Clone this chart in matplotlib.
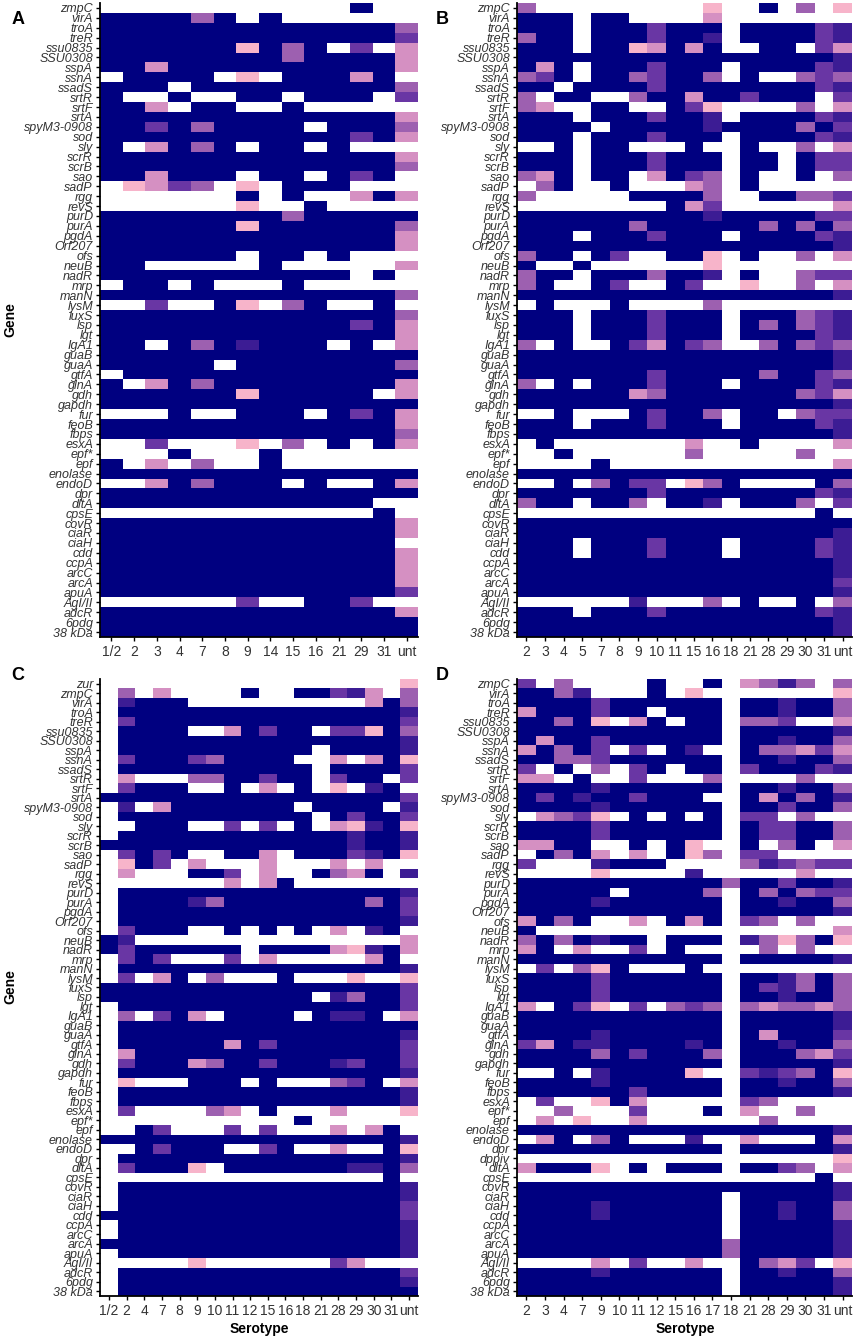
import numpy as np
import matplotlib.pyplot as plt
from matplotlib.colors import LinearSegmentedColormap

plt.rcParams['font.family'] = ['Liberation Sans', 'DejaVu Sans']

# gene rows, top to bottom
genes_A = ['zmpC', 'virA', 'troA', 'treR', 'ssu0835', 'SSU0308', 'sspA', 'ssnA', 'ssadS',
           'srtR', 'srtF', 'srtA', 'spyM3-0908', 'sod', 'sly', 'scrR', 'scrB', 'sao', 'sadP',
           'rgg', 'revS', 'purD', 'purA', 'pgdA', 'Orf207', 'ofs', 'neuB', 'nadR', 'mrp',
           'manN', 'lysM', 'luxS', 'lsp', 'lgt', 'IgA1', 'guaB', 'guaA', 'gtfA', 'glnA', 'gdh',
           'gapdh', 'fur', 'feoB', 'fbps', 'esxA', 'epf*', 'epf', 'enolase', 'endoD', 'dpr',
           'dltA', 'cpsE', 'covR', 'ciaR', 'ciaH', 'cdd', 'ccpA', 'arcC', 'arcA', 'apuA',
           'AgI/II', 'adcR', '6pdg', '38 kDa']
genes_B = genes_A
genes_C = ['zur'] + genes_A
genes_D = genes_A[:50] + ['dppiv'] + genes_A[50:]

sero_A = ['1/2', '2', '3', '4', '7', '8', '9', '14', '15', '16', '21', '29', '31', 'unt']
sero_B = ['2', '3', '4', '5', '7', '8', '9', '10', '11', '15', '16', '18', '21', '28', '29', '30', '31', 'unt']
sero_C = ['1/2', '2', '4', '7', '8', '9', '10', '11', '12', '15', '16', '18', '21', '28', '29', '30', '31', 'unt']
sero_D = ['2', '3', '4', '7', '9', '10', '11', '12', '15', '16', '17', '18', '21', '28', '29', '30', '31', 'unt']

# '.' absent, p/l/m/d/D/N increasing proportion
levels = {'.': np.nan, 'p': 0.1, 'l': 0.3, 'm': 0.5, 'd': 0.7, 'D': 0.85, 'N': 1.0}

cells_A = [
    "...........N..", "NNNNmN.N......", "NNNNNNNNNNNNNm", "NNNNNNNNNNNNNd",
    "NNNNNNpNmN.d.l", "NNNNNNNNmNNNNl", "NNlNNNNNNNNNNl", ".NNNN.p.NNNlN.",
    "NNN.NNNNNNNNNm", "N..N..NN.NNN.d", "NNl.NN..N.....", "NNNNNNNNNNNNNl",
    "NNdNmNNNN.NNNm", "NNNNNNNNNNNdNl", "N.lNmN.NN.N...", "NNNNNNNNNNNNNl",
    "NNNNNNNNNNNNNm", "NNlNNN.NN.NdN.", ".pldm.p.NNN...", "......N.N..lNl",
    "......p..N....", "NNNNNNNNmNNNNN", "NNNNNNpNNNNNNm", "NNNNNNNNNNNNNl",
    "NNNNNNNNNNNNNl", "NNNNNN.NN.N...", "NN.....N.....l", "NNNNNNNNNNN.N.",
    ".NN.N...N.....", "NNNNNNNNNNNNNm", "..d..Np.mN..N.", "NNNNNNNNNNNNNm",
    "NNNNNNNNNNNdNl", "NNNNNNNNNNNNNl", "NN.NmNDNNN.N.l", "NNNNNNNNNNNNNN",
    "NNNNN.NNNNNNNm", ".NNNNNNNNNNNNN", "N.lNmNNNNNNNNl", "NNNNNNpNNNNN.l",
    "NNNNNNNNNNNNNN", "...N..NNN.NdNl", "NNNNNNNNNNNNNl", "NNNNNNNNNNNNNm",
    "..d...p.m.N.Nl", "...N...N......", "N.l.m..N......", "NNNNNNNNNNNNNN",
    "..lNmNNN.N..Nl", "NNNNNNNNNNNNNN", "NNNNNNNNNNNN..", "............N.",
    "NNNNNNNNNNNNNl", "NNNNNNNNNNNNNl", "NNNNNNNNNNNNN.", "NNNNNNNNNNNNNl",
    "NNNNNNNNNNNNNl", "NNNNNNNNNNNNNl", "NNNNNNNNNNNNNl", "NNNNNNNNNNNNNd",
    "......d..NNd..", "NNNNNNNNNNNNNl", "NNNNNNNNNNNNNN", "NNNNNNNNNNNNNN",
]

cells_B = [
    "m.........p..N.m.p", "NNN.NN....l.......", "NNN.NNNdNNN.NNNNdD", "mNN.NNNdNND.NNNNdD",
    "NNN.NNplNlN..NN.dl", "NNNNNNNNNNNNNNNNND", "NlN.NNNdNNN.NNNNdD", "mdN.NNmdNNm.N..mdm",
    "NN.NNNNdNNNNNNNNdD", "m.NN..mNNlNNdNNN.d", "ml..NN..Ndp....m.l", "NNN.NNNdNND.NNNNdD",
    "NNNN.NNNNNDNNNNmNd", "NNN.NNNdNNN.NNNNdD", "..N.NN...N..N..m.l", "NNN.NNNdNNN.NN.Ndd",
    "NNN.NNNdNNN.NN.Ndd", "mlN.NN.lNdm.N..N.m", ".mN..N...lm.N.....", "m.....NNNNm..NNmmd",
    "........Nld......l", "NNNNNNNNNNDNNNNNdd", "NNNNNNmNNNNNNmNmNm", "NNN.NNNdNNN.NNNNdD",
    "NNNNNNNNNNNNNNNNND", "mNN.Nd..NNp.N..m.l", "N..N......p.......", "mNN.NNNmNND.N..mdd",
    "mN..Nd..Nd..p..m.l", "NNNNNNNNNNNNNNNNND", ".N...N....m.......", "NNN.NNNdNNN.NNNmdD",
    "NNN.NNNdNNN.NmNmdD", "NNN.NNNdNNN.NNNNdD", "m.N..NdlNdm..mNmdm", "NNNNNNNNNNNNNNNNND",
    "NNNNNNNNNNNNNNNNND", "NNNNNNNdNNNNNmNNdm", "m.N.NNNdNNN.NNNNdD", "NNNNNNlmNNNNNNNmdl",
    "NNNNNNNNNNNNNNNNND", "..N...NdNNm.NN.mdd", "NNN.NNNdNNN.NNNNdD", "NNNNNNNNNNNNNNNNND",
    ".N.......l..N....l", "..N......m.....m..", "....N............l", "NNNNNNNNNNNNNNNNNN",
    "..N.mNdd.pmN....Nm", "NNNNNNNdNNNNNNNNdD", "mNN.NNm.NND.NNNm.d", "................N.",
    "NNNNNNNNNNNNNNNNNN", "NNNNNNNNNNNNNNNNND", "NNN.NNNdNNN.NNNNdD", "NNN.NNNdNNN.NNNNdD",
    "NNNNNNNNNNNNNNNNND", "NNNNNNNNNNNNNNNNND", "NNNNNNNNNNNNNNNNNd", "NNNNNNNNNNNNNNNNND",
    "......D...m.N..N.m", "NNN.NNNdNNNNNNNNdD", "NNNNNNNNNNNNNNNNND", "NNNNNNNNNNNNNNNNND",
]

cells_C = [
    ".................p", ".m.l....N..NNdDl.m", ".DNNN..........lNm", ".NNNNNNNNNNNNNNNND",
    ".dNNNNNNNNNNNNNNNd", ".NNNN..lNdNN.ddpNm", ".NNNNNNNNNNNNNNNND", ".NNNNNNNNNNN.NNNND",
    ".dNNNdmNNNN..l.lNp", ".NNNNNNNNNNN.NNNNd", ".l...mmNNdNN.dNN.d", ".dNNN..N.l.N.p.DN.",
    "NNNNNNNNNNNNNNNNNd", ".D.lNNNNNNN.NNNN.D", ".NNNNNNNNNNN.NdNNd", "..NNN..d.d.N.lpDNp",
    ".NNNNNNNNNNNNNDNND", "NNNNNNNNNNNNNNDNND", ".dNdN..NNl.NNNdDNp", ".pNd.l...l...l.l..",
    ".l...NNd.l..NmlN.D", ".......l.lN.......", ".NNNNNNNNNNNNNNNND", ".NNNNDmNNNNNNNNmNd",
    ".NNNNNNNNNNNNNNNNd", ".NNNNNNNNNNNNNNNND", ".dNNN..N.N.N.l.DN.", "ND...............l",
    "NdNNNNNN.NNNNlpDNl", ".dNd...d.l.....lN.", ".NNNNNNNNNNNNNNNND", ".d.lN.m...N...p..p",
    "NNNNNNNNNNNNNNNNNd", "NNNNNNNNNNNN.DmNNd", ".NNNNNNNNNNNNNNNNd", ".m.dNl.NNNN.NDDN.l",
    ".NNNNNNNNNNNNNNNNN", ".NNNNNNNNNNNNNNNND", ".NNNNNNlNdNNNNNNNd", ".lNNNNNNNNNNNNNNNd",
    ".dNNNlmNNdNNNDdNNd", ".NNNNNNNNNNNNNNNND", ".p...NNN.N...mdN.l", ".NNNNNNNNNNNNNNNND",
    ".NNNNNNNNNNNNNNNND", ".d....ml.N...l...p", "...........N......", "..Nd...d.d...l.lN.",
    "NNNNNNNNNNNNNNNNND", "..NdNNN..dN..l..Np", ".NNNNNNNNNNNNNNNND", ".dNNNp.NNNNNNNDDNm",
    "................N.", ".NNNNNNNNNNNNNNNND", ".NNNNNNNNNNNNNNNND", ".NNNNNNNNNNNNNNNNd",
    "NNNNNNNNNNNNNNNNNd", ".NNNNNNNNNNNNNNNND", ".NNNNNNNNNNNNNNNND", "NNNNNNNNNNNNNNNNND",
    ".NNNNNNNNNNNNNNNND", ".....p.......dl...", ".NNNNNNNNNNNNNNNNd", ".NNNNNNNNNNNNNNNND",
    ".NNNNNNNNNNNNNNNNN",
]

cells_D = [
    "d.m....N..N.lmDm.m", "NNmD...N.p.......p", "NNNNdNNNNNN.NNDNNm", "lNNNdNN.NNN.NNDNNm",
    "NNmNp.lN.NN.mmd..l", "NNNNNNNNNNN.NNNNND", "NlNNdNNNNNN.NNDNNm", "lNmNd.d.ND..Nmmldl",
    "NNmmdNNNNNN.NNDNNm", "d.N.m.dN.NN.dNNNdD", "ll.N..d...m....m..", "NNNNDNNNNNN.NNDNNm",
    "NdNDNNdNNN..NlNmND", "NNNNDNNNNNN.NNdNNm", ".lmdp.N.N.N.dd.m..", "NNNNdNNNNNN.NddNNm",
    "NNNNdNNNNNN.NddNNm", "llNN..N.Np..N.mN.l", ".NmNl.l.Npm.dd....", "d...DNNN....mDdmdd",
    "....p....D.....l..", "NNNNNNNNNNNmNNdNND", "NNNNN.NNNNm.NmNmdd", "NNNNDNNNNNN.NNDNNm",
    "NNNNNNNNNNN.NNNNND", "lNmN..l.NlN.dm.m..", "N................l", "mNmNDNN.NNN.DmpmNp",
    "lN.l..d.N....m.m..", "NNNNNNNNNNN.NNNNND", ".d.mpN...N........", "NNNNdNNNNNN.NNDmNm",
    "NNNNdNNNNNN.NdDmNm", "NNNNdNNNNNN.NNDNNm", "l.Ndp.d.mdm.mlmmlm", "NNNNNNNNNNN.NNNNND",
    "NNNNNNNNNNN.NNNNND", "NNNNDNNNNNN.NlNNNd", "dlNDDNNNNDN.NNDNNm", "NNNNmNdNNNm.NNNmld",
    "NNNNNNNNNNN.NNNNND", "..N.DNNNNp..dDdmNp", "NNNNDNNNNNN.NNDNNm", "NNNNNNdNNNN.NNNNND",
    ".d..pNl.....dm....", "..m...d...N.l..m..", ".l.p..l......m....", "NNNNNNNNNNNNNNNNND",
    ".lN.mN...D..l...Nl", "NNNNNNNNNNN.NNNNND", ".................p", "lNNNp.N.NNN.NNdm.l",
    "................N.", "NNNNNNNNNNNNNNNNND", "NNNNNNNNNNN.NNNNND", "NNNNDNNNNNN.NNDNNm",
    "NNNNDNNNNNN.NNDNNm", "NNNNNNNNNNN.NNNNND", "NNNNNNNNNNN.NNNNND", "NNNNNNNNNNNmNNNNND",
    "NNNNNNNNNNNmNNNNND", "....l.d..l..Nmld.p", "NNNNDNNNNNN.NNDNNm", "NNNNNNNNNNN.NNNNND",
    "NNNNNNNNNNN.NNNNND",
]

cmap = LinearSegmentedColormap.from_list('pinknavy', [
    (0.0, '#fbbdce'), (0.1, '#f7b4ca'), (0.3, '#d590c2'), (0.5, '#9e60b0'),
    (0.7, '#6a36a4'), (0.85, '#3c1c94'), (1.0, '#000080')])

W, H = 857, 1339
fig = plt.figure(figsize=(W / 100, H / 100), dpi=100)


def box(left, right, top, bottom):
    return [left / W, 1 - bottom / H, (right - left) / W, (bottom - top) / H]


def draw_panel(ax, cells, genes, sero):
    mat = np.array([[levels[c] for c in row] for row in cells])
    mat = np.ma.masked_invalid(mat)
    nrow, ncol = mat.shape
    ax.pcolormesh(np.arange(ncol + 1) - 0.5, np.arange(nrow + 1) - 0.5, mat,
                  cmap=cmap, vmin=0, vmax=1, edgecolors='none')
    ax.set_xlim(-0.5, ncol - 0.5)
    ax.set_ylim(nrow - 0.5, -0.5)
    ax.set_xticks(range(ncol))
    ax.set_xticklabels(sero, fontsize=10, color='#333333')
    ax.set_yticks(range(nrow))
    ax.set_yticklabels(genes, fontsize=9, style='italic', color='#333333')
    for s in ['top', 'right']:
        ax.spines[s].set_visible(False)
    for s in ['left', 'bottom']:
        ax.spines[s].set_linewidth(1.3)
    ax.tick_params(axis='both', length=3, width=1, pad=2)
    ax.tick_params(axis='x', pad=3)


axA = fig.add_axes(box(100, 418, 3, 637))
draw_panel(axA, cells_A, genes_A, sero_A)
axB = fig.add_axes(box(517, 852, 3, 637))
draw_panel(axB, cells_B, genes_B, sero_B)
axC = fig.add_axes(box(100, 418, 679, 1296))
draw_panel(axC, cells_C, genes_C, sero_C)
axD = fig.add_axes(box(517, 852, 679, 1296))
draw_panel(axD, cells_D, genes_D, sero_D)

# panel letters
for letter, x, y in [('A', 18, 20), ('B', 442, 20), ('C', 18, 676), ('D', 442, 676)]:
    fig.text(x / W, 1 - y / H, letter, fontsize=13, fontweight='bold', ha='center', va='center')

# axis titles
fig.text(10 / W, 1 - 320 / H, 'Gene', rotation=90, fontsize=10, fontweight='bold', ha='center', va='center')
fig.text(10 / W, 1 - 987 / H, 'Gene', rotation=90, fontsize=10, fontweight='bold', ha='center', va='center')
fig.text(259 / W, 1 - 1329 / H, 'Serotype', fontsize=10, fontweight='bold', ha='center', va='center')
fig.text(685 / W, 1 - 1329 / H, 'Serotype', fontsize=10, fontweight='bold', ha='center', va='center')

fig.savefig('out.png', dpi=100)
